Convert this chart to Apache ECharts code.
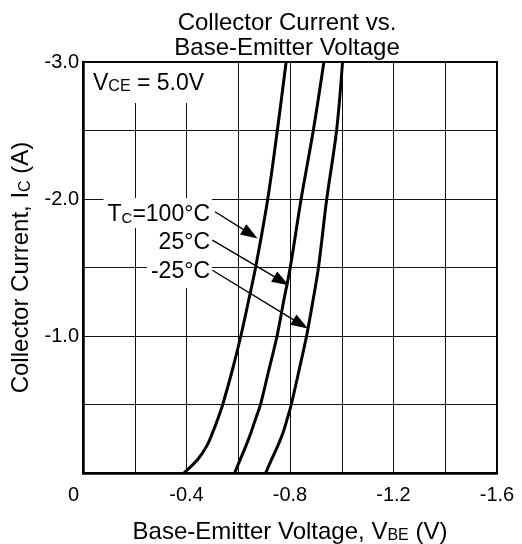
<!DOCTYPE html>
<html>
<head>
<meta charset="utf-8">
<style>
    html, body { margin: 0; padding: 0; background: #fff; }
    #chart { width: 522px; height: 544px; }
</style>
<script src="https://cdn.jsdelivr.net/npm/echarts@6/dist/echarts.min.js"></script>
</head>
<body>
<div id="chart"></div>
<script>
    // collector current steps (A) and base-emitter voltage per case temperature (V)
    var ic      = [0, -0.1, -0.2, -0.3, -0.4, -0.5, -0.75, -1.0, -1.25, -1.5, -2.0, -2.5, -3.0];
    var vbe100  = [-0.390, -0.444, -0.479, -0.502, -0.522, -0.540, -0.577, -0.610, -0.639, -0.667, -0.714, -0.751, -0.785];
    var vbe25   = [-0.586, -0.608, -0.630, -0.650, -0.668, -0.686, -0.718, -0.750, -0.775, -0.801, -0.843, -0.890, -0.931];
    var vbeM25  = [-0.706, -0.729, -0.753, -0.774, -0.790, -0.805, -0.835, -0.864, -0.888, -0.910, -0.942, -0.980, -1.003];

    // arrows from the temperature labels to their curves: [start, arrowhead centre]
    var arrow100 = [[-0.510, -1.907], [-0.647, -1.745]];
    var arrow25  = [[-0.500, -1.700], [-0.767, -1.402]];
    var arrowM25 = [[-0.500, -1.480], [-0.841, -1.087]];

    var FONT = '"Liberation Sans", Arial, sans-serif';

    function pairs(xs, ys) {
        var out = [];
        for (var i = 0; i < xs.length; i++) out.push([xs[i], ys[i]]);
        return out;
    }

    function curve(name, xs) {
        return {
            name: name,
            type: 'line',
            data: pairs(xs, ic),
            smooth: 0.35,
            showSymbol: false,
            silent: true,
            lineStyle: { color: '#000', width: 3 },
            z: 3
        };
    }

    var chart = echarts.init(document.getElementById('chart'));

    var series = [curve('100', vbe100), curve('25', vbe25), curve('-25', vbeM25)];
    series[0].markLine = {
        silent: true,
        animation: false,
        symbol: ['none', 'triangle'],
        symbolSize: [12, 17],
        lineStyle: { color: '#000', width: 1.4, type: 'solid' },
        itemStyle: { color: '#000' },
        label: { show: false },
        data: [arrow100, arrow25, arrowM25].map(function (a) {
            return [{ coord: a[0] }, { coord: a[1] }];
        })
    };

    var option = {
        animation: false,
        backgroundColor: '#fff',
        title: {
            text: 'Collector Current vs.\nBase-Emitter Voltage',
            left: 282,
            top: 6,
            textAlign: 'center',
            textStyle: { fontFamily: FONT, fontSize: 24, fontWeight: 'normal', color: '#000', lineHeight: 25 }
        },
        grid: {
            left: 83, right: 25, top: 62, bottom: 71,
            outerBoundsMode: 'none',
            show: true, borderColor: '#000', borderWidth: 2
        },
        xAxis: {
            type: 'value',
            min: -1.6, max: 0, interval: 0.2,
            inverse: true,
            name: '{n|Base-Emitter Voltage, V}{s|BE}{n| (V)}',
            nameLocation: 'middle',
            nameGap: 45,
            nameTextStyle: {
                rich: {
                    n: { fontFamily: FONT, fontSize: 24, color: '#000', verticalAlign: 'bottom', lineHeight: 26 },
                    s: { fontFamily: FONT, fontSize: 16, color: '#000', verticalAlign: 'bottom', lineHeight: 22 }
                }
            },
            axisLine: { show: true, lineStyle: { color: '#000', width: 2.5 } },
            axisTick: { show: false },
            splitLine: { show: true, lineStyle: { color: '#111', width: 1 } },
            axisLabel: {
                margin: 12,
                fontFamily: FONT, fontSize: 20, color: '#000',
                formatter: function (v) {
                    if (Math.abs(v) < 1e-9) return '{z|0}';
                    return Math.round(v / 0.2) % 2 === 0 ? v.toFixed(1) : '';
                },
                rich: { z: { fontFamily: FONT, fontSize: 20, color: '#000', padding: [0, 19, 0, 0] } }
            }
        },
        yAxis: {
            type: 'value',
            min: -3, max: 0, interval: 0.5,
            inverse: true,
            name: '{n|Collector Current, I}{s|C}{n| (A)}',
            nameLocation: 'middle',
            nameRotate: 90,
            nameGap: 46,
            nameTextStyle: {
                rich: {
                    n: { fontFamily: FONT, fontSize: 24, color: '#000', verticalAlign: 'bottom', lineHeight: 26 },
                    s: { fontFamily: FONT, fontSize: 16, color: '#000', verticalAlign: 'bottom', lineHeight: 22 }
                }
            },
            axisLine: { show: true, lineStyle: { color: '#000', width: 2.5 } },
            axisTick: { show: false },
            splitLine: { show: true, lineStyle: { color: '#111', width: 1 } },
            axisLabel: {
                margin: 4,
                fontFamily: FONT, fontSize: 20, color: '#000',
                formatter: function (v) {
                    if (Math.abs(v) < 1e-9) return '';
                    return Math.round(v / 0.5) % 2 === 0 ? v.toFixed(1) : '';
                }
            }
        },
        graphic: [
            {
                type: 'text', left: 85, top: 63, z: 100,
                style: {
                    text: '{v|V}{s|CE}{v| = 5.0V}',
                    backgroundColor: '#fff',
                    padding: [7, 4, 8, 8],
                    rich: {
                        v: { fontFamily: FONT, fontSize: 23, fill: '#000', verticalAlign: 'bottom', lineHeight: 25 },
                        s: { fontFamily: FONT, fontSize: 16, fill: '#000', verticalAlign: 'bottom', lineHeight: 21 }
                    }
                }
            },
            {
                type: 'text', right: 310, top: 198, z: 100,
                style: {
                    text: '{v|T}{s|C}{v|=100°C}',
                    backgroundColor: '#fff',
                    padding: [2, 2, 2, 4],
                    rich: {
                        v: { fontFamily: FONT, fontSize: 23, fill: '#000', verticalAlign: 'bottom', lineHeight: 26 },
                        s: { fontFamily: FONT, fontSize: 15, fill: '#000', verticalAlign: 'bottom', lineHeight: 20 }
                    }
                }
            },
            {
                type: 'text', right: 310, top: 228, z: 100,
                style: {
                    text: '25°C',
                    font: '23px ' + FONT,
                    fill: '#000',
                    backgroundColor: '#fff',
                    padding: [2, 2, 2, 4],
                    lineHeight: 26
                }
            },
            {
                type: 'text', right: 310, top: 256, z: 100,
                style: {
                    text: '-25°C',
                    font: '23px ' + FONT,
                    fill: '#000',
                    backgroundColor: '#fff',
                    padding: [3, 2, 3, 4],
                    lineHeight: 26
                }
            }
        ],
        series: series
    };

    chart.setOption(option);
</script>
</body>
</html>
